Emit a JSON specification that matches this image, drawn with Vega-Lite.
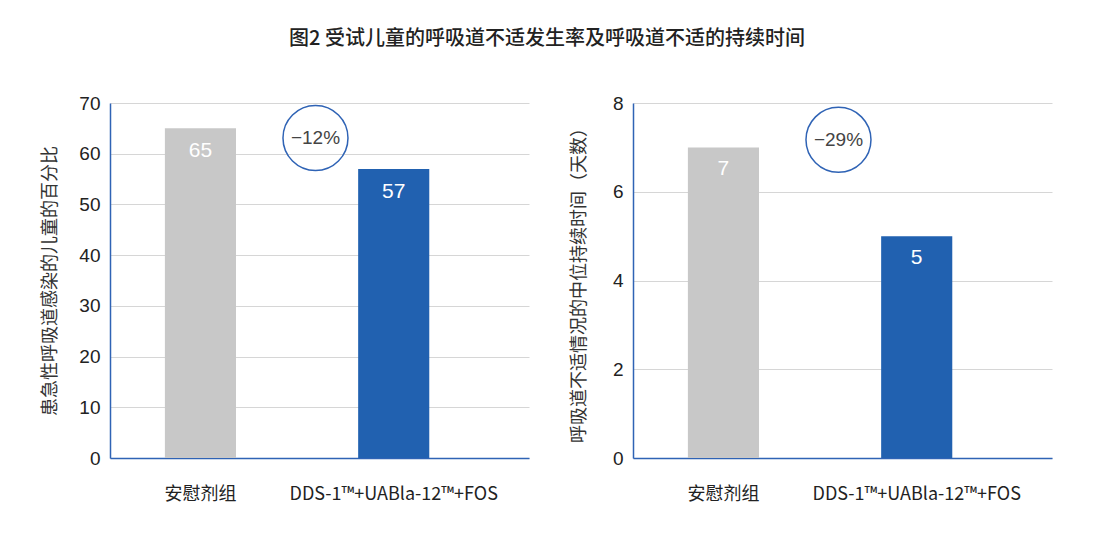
{
  "$schema": "https://vega.github.io/schema/vega-lite/v6.json",
  "title": {
    "text": "图2 受试儿童的呼吸道不适发生率及呼吸道不适的持续时间",
    "fontSize": 20,
    "fontWeight": 500,
    "color": "#222222",
    "font": "Noto Sans CJK SC",
    "anchor": "middle",
    "offset": 45
  },
  "padding": {"left": 41, "top": 29, "right": 10, "bottom": 10},
  "background": "#ffffff",
  "datasets": {
    "infection": [
      {"group": "安慰剂组", "value": 65},
      {"group": "DDS-1™+UABla-12™+FOS", "value": 57}
    ],
    "infection_note": [
      {"group": "DDS-1™+UABla-12™+FOS", "value": 63.1, "label": "−12%"}
    ],
    "duration": [
      {"group": "安慰剂组", "value": 7},
      {"group": "DDS-1™+UABla-12™+FOS", "value": 5}
    ],
    "duration_note": [
      {"group": "DDS-1™+UABla-12™+FOS", "value": 7.17, "label": "−29%"}
    ]
  },
  "spacing": 41,
  "hconcat": [
    {
      "width": 419,
      "height": 355,
      "layer": [
        {
          "data": {"name": "infection"},
          "mark": {"type": "bar"},
          "encoding": {
            "x": {"field": "group", "type": "nominal", "sort": ["安慰剂组", "DDS-1™+UABla-12™+FOS"], "scale": {"align": 0.355}},
            "y": {
              "field": "value",
              "type": "quantitative",
              "scale": {"domain": [0, 70]},
              "axis": {
                "values": [0, 10, 20, 30, 40, 50, 60, 70],
                "title": "患急性呼吸道感染的儿童的百分比",
                "titlePadding": 19
              }
            },
            "color": {
              "field": "group",
              "type": "nominal",
              "scale": {"domain": ["安慰剂组", "DDS-1™+UABla-12™+FOS"], "range": ["#c8c8c8", "#2161b0"]},
              "legend": null
            }
          }
        },
        {
          "data": {"name": "infection"},
          "mark": {"type": "text", "baseline": "middle", "dy": 23, "fontSize": 21, "color": "#ffffff", "font": "Liberation Sans"},
          "encoding": {
            "x": {"field": "group", "type": "nominal", "sort": ["安慰剂组", "DDS-1™+UABla-12™+FOS"], "scale": {"align": 0.355}},
            "y": {"field": "value", "type": "quantitative"},
            "text": {"field": "value", "type": "quantitative"}
          }
        },
        {
          "data": {"name": "infection_note"},
          "mark": {"type": "point", "shape": "circle", "filled": false, "stroke": "#2f63b5", "strokeWidth": 1.5, "size": 4225, "opacity": 1},
          "encoding": {
            "x": {"field": "group", "type": "nominal", "sort": ["安慰剂组", "DDS-1™+UABla-12™+FOS"], "scale": {"align": 0.355}, "bandPosition": -0.6},
            "y": {"field": "value", "type": "quantitative"}
          }
        },
        {
          "data": {"name": "infection_note"},
          "mark": {"type": "text", "baseline": "middle", "fontSize": 19, "color": "#444444", "font": "Liberation Sans"},
          "encoding": {
            "x": {"field": "group", "type": "nominal", "sort": ["安慰剂组", "DDS-1™+UABla-12™+FOS"], "scale": {"align": 0.355}, "bandPosition": -0.6},
            "y": {"field": "value", "type": "quantitative"},
            "text": {"field": "label"}
          }
        }
      ]
    },
    {
      "width": 419,
      "height": 355,
      "layer": [
        {
          "data": {"name": "duration"},
          "mark": {"type": "bar"},
          "encoding": {
            "x": {"field": "group", "type": "nominal", "sort": ["安慰剂组", "DDS-1™+UABla-12™+FOS"], "scale": {"align": 0.355}},
            "y": {
              "field": "value",
              "type": "quantitative",
              "scale": {"domain": [0, 8]},
              "axis": {
                "values": [0, 2, 4, 6, 8],
                "title": "呼吸道不适情况的中位持续时间（天数）",
                "titlePadding": 24
              }
            },
            "color": {
              "field": "group",
              "type": "nominal",
              "scale": {"domain": ["安慰剂组", "DDS-1™+UABla-12™+FOS"], "range": ["#c8c8c8", "#2161b0"]},
              "legend": null
            }
          }
        },
        {
          "data": {"name": "duration"},
          "mark": {"type": "text", "baseline": "middle", "dy": 22, "fontSize": 21, "color": "#ffffff", "font": "Liberation Sans"},
          "encoding": {
            "x": {"field": "group", "type": "nominal", "sort": ["安慰剂组", "DDS-1™+UABla-12™+FOS"], "scale": {"align": 0.355}},
            "y": {"field": "value", "type": "quantitative"},
            "text": {"field": "value", "type": "quantitative"}
          }
        },
        {
          "data": {"name": "duration_note"},
          "mark": {"type": "point", "shape": "circle", "filled": false, "stroke": "#2f63b5", "strokeWidth": 1.5, "size": 4225, "opacity": 1},
          "encoding": {
            "x": {"field": "group", "type": "nominal", "sort": ["安慰剂组", "DDS-1™+UABla-12™+FOS"], "scale": {"align": 0.355}, "bandPosition": -0.6},
            "y": {"field": "value", "type": "quantitative"}
          }
        },
        {
          "data": {"name": "duration_note"},
          "mark": {"type": "text", "baseline": "middle", "fontSize": 19, "color": "#444444", "font": "Liberation Sans"},
          "encoding": {
            "x": {"field": "group", "type": "nominal", "sort": ["安慰剂组", "DDS-1™+UABla-12™+FOS"], "scale": {"align": 0.355}, "bandPosition": -0.6},
            "y": {"field": "value", "type": "quantitative"},
            "text": {"field": "label"}
          }
        }
      ]
    }
  ],
  "config": {
    "view": {"stroke": null},
    "scale": {"bandPaddingInner": 0.632, "bandPaddingOuter": 0.4},
    "axisX": {
      "title": null,
      "labelAngle": 0,
      "ticks": false,
      "grid": false,
      "domainColor": "#2f63b5",
      "domainWidth": 1.5,
      "labelPadding": 27,
      "labelFontSize": 18,
      "labelLimit": 0,
      "labelColor": "#222222",
      "labelFont": "Noto Sans CJK SC"
    },
    "axisY": {
      "ticks": false,
      "grid": true,
      "gridColor": "#d6d6d6",
      "gridWidth": 1,
      "domainColor": "#2f63b5",
      "domainWidth": 1.5,
      "labelPadding": 10,
      "labelFontSize": 19,
      "labelColor": "#222222",
      "labelFont": "Liberation Sans",
      "titleFont": "Noto Sans CJK SC",
      "titleFontSize": 18,
      "titleFontWeight": "normal",
      "titleColor": "#333333"
    }
  }
}
